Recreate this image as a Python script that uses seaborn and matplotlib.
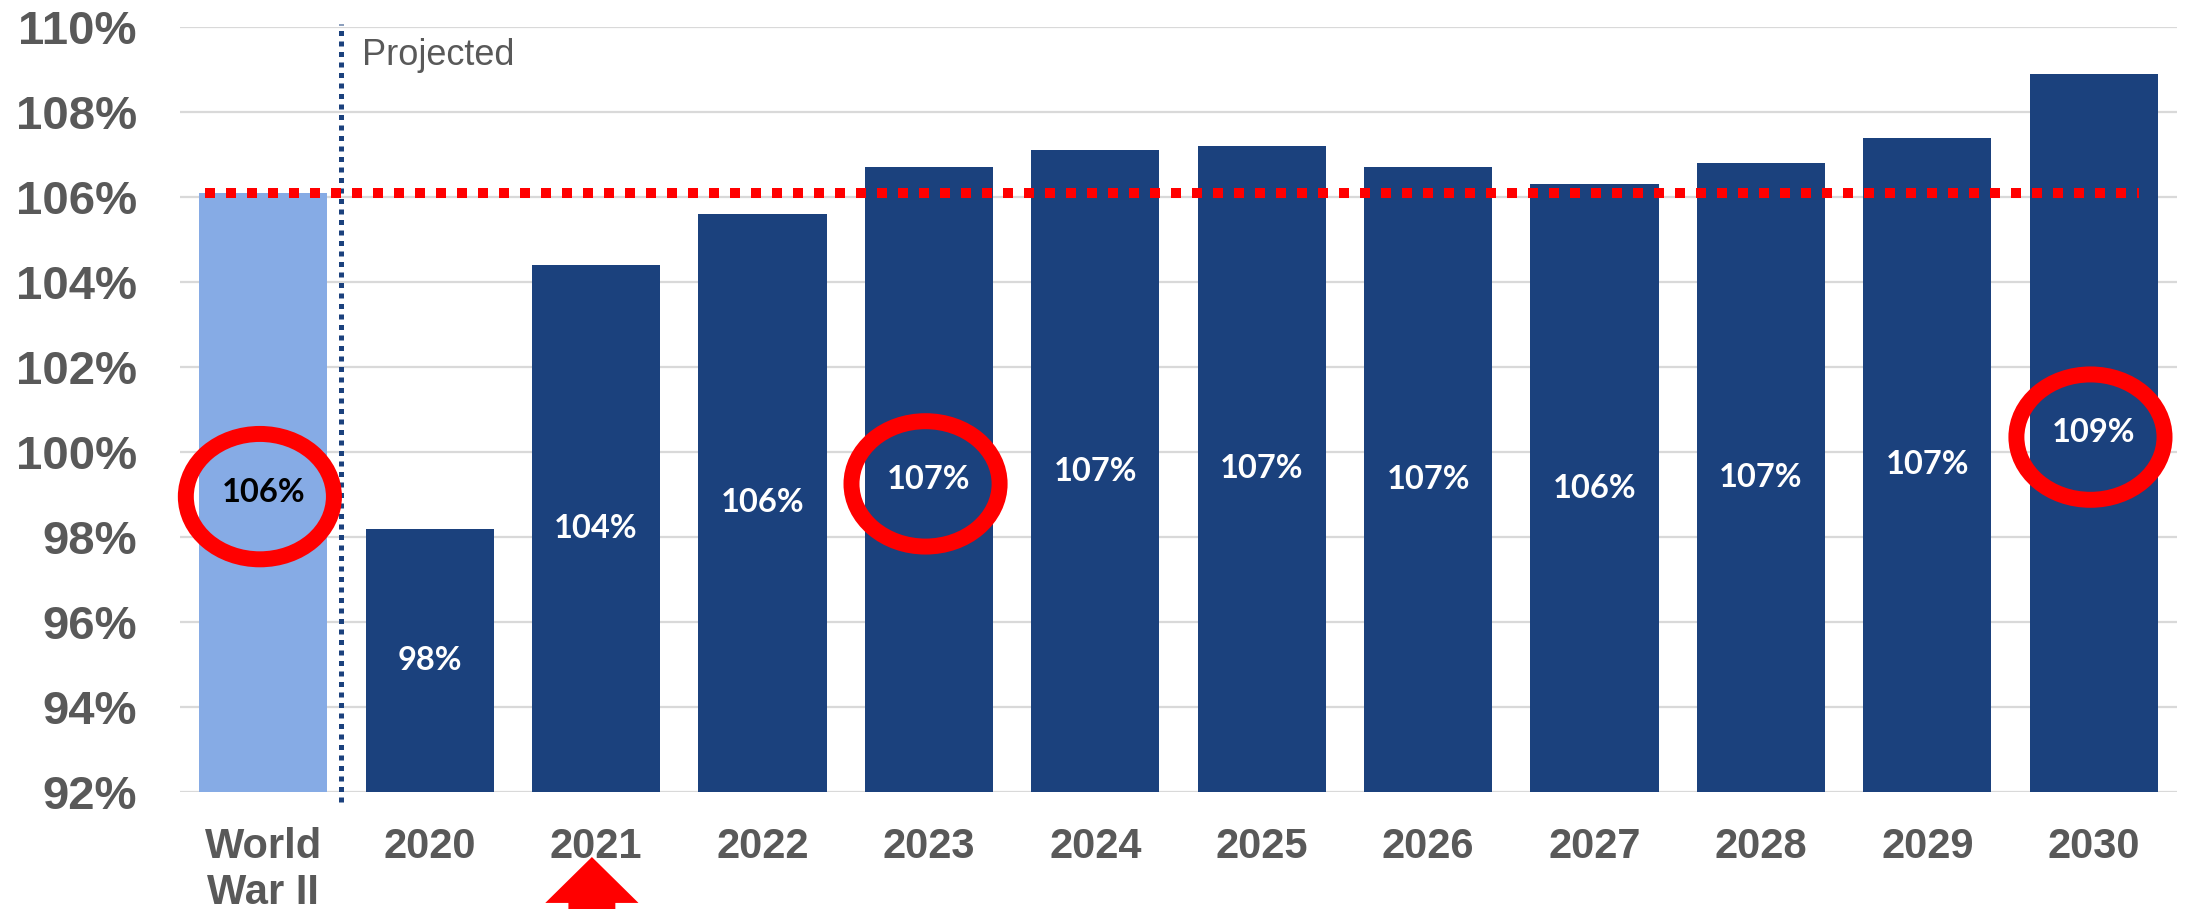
import matplotlib
matplotlib.use("Agg")
import matplotlib.pyplot as plt
import matplotlib.transforms as mtransforms
from matplotlib.patches import Ellipse, Polygon
import pandas as pd
import seaborn as sns

# Debt-to-GDP ratio: World War II peak vs. 2020 and projections to 2030
categories = ["World\nWar II", "2020", "2021", "2022", "2023", "2024",
              "2025", "2026", "2027", "2028", "2029", "2030"]
values = [106.1, 98.2, 104.4, 105.6, 106.7, 107.1, 107.2, 106.7, 106.3,
          106.8, 107.4, 108.9]
y_ticks = [92, 94, 96, 98, 100, 102, 104, 106, 108, 110]
wartime_peak = 106.1
highlighted = ["World\nWar II", "2023", "2030"]
pointer_category = "2021"
projection_label = "Projected"

NAVY = "#1b417d"
LIGHT = "#86abe5"
GREY_TEXT = "#595959"
GRID = "#d9d9d9"

df = pd.DataFrame({"period": categories, "ratio": values})
bar_colors = [LIGHT] + [NAVY] * (len(categories) - 1)

sns.set_theme(style="white")
plt.rcParams["font.family"] = ["Liberation Sans", "DejaVu Sans"]

W, H = 2190, 909
fig = plt.figure(figsize=(W / 100, H / 100), dpi=100)
ax = fig.add_axes([180 / W, 117 / H, 1997 / W, 765 / H])

sns.barplot(data=df, x="period", y="ratio", hue="period", palette=bar_colors,
            width=0.77, saturation=1, linewidth=0, legend=False, ax=ax,
            zorder=2)

ymin, ymax = y_ticks[0], y_ticks[-1]
ax.set_ylim(ymin, ymax)
ax.set_xlim(-0.5, len(categories) - 0.5)
ax.set_xlabel("")
ax.set_ylabel("")
ax.set_yticks(y_ticks)
ax.set_yticklabels([f"{t}%" for t in y_ticks])
ax.yaxis.grid(True, color=GRID, linewidth=1.6)
ax.xaxis.grid(False)
ax.set_axisbelow(True)
for spine in ax.spines.values():
    spine.set_visible(False)

ax.tick_params(axis="y", length=0, pad=31, labelsize=34, labelcolor=GREY_TEXT)
ax.tick_params(axis="x", length=0, pad=25, labelsize=30, labelcolor=GREY_TEXT)
for lbl in ax.get_yticklabels() + ax.get_xticklabels():
    lbl.set_fontweight("bold")

# value labels centred within the visible part of each bar
for i, v in enumerate(values):
    ax.text(i, (ymin + v) / 2, f"{v:.0f}%", ha="center", va="center",
            fontsize=23.5, fontweight="bold", family=["Lato", "DejaVu Sans"],
            color="black" if i == 0 else "white", zorder=6)

# wartime peak reference line, drawn across all bars
ax.plot([-0.35, len(categories) - 0.73], [wartime_peak, wartime_peak],
        color="red", linewidth=7.2, linestyle=(0, (1, 1.1)),
        dash_capstyle="butt", zorder=6)

# divider between history and projections
divider_x = 0.47
ax.plot([divider_x, divider_x], [91.76, 110.07], color=NAVY, linewidth=3.6,
        linestyle=(0, (1, 1.1)), dash_capstyle="butt", clip_on=False, zorder=5)
ax.text(divider_x + 0.125, 109.1, projection_label, fontsize=26,
        color=GREY_TEXT, ha="left", va="baseline")

# red rings around highlighted labels
for name in highlighted:
    i = categories.index(name)
    v = values[i]
    ax.add_patch(Ellipse((i - 0.02, (ymin + v) / 2 - 0.1), width=0.89,
                         height=2.95, fill=False, edgecolor="red",
                         linewidth=11.5, zorder=7, clip_on=False))

# up arrow under the pointer category
trans = mtransforms.blended_transform_factory(ax.transData, ax.transAxes)
px = categories.index(pointer_category) - 0.025
arrow = Polygon([(px, -0.085), (px + 0.28, -0.145), (px + 0.141, -0.145),
                 (px + 0.141, -0.25), (px - 0.141, -0.25),
                 (px - 0.141, -0.145), (px - 0.28, -0.145)],
                closed=True, facecolor="red", edgecolor="none",
                transform=trans, clip_on=False, zorder=8)
ax.add_patch(arrow)

fig.savefig("out.png", dpi=100)
